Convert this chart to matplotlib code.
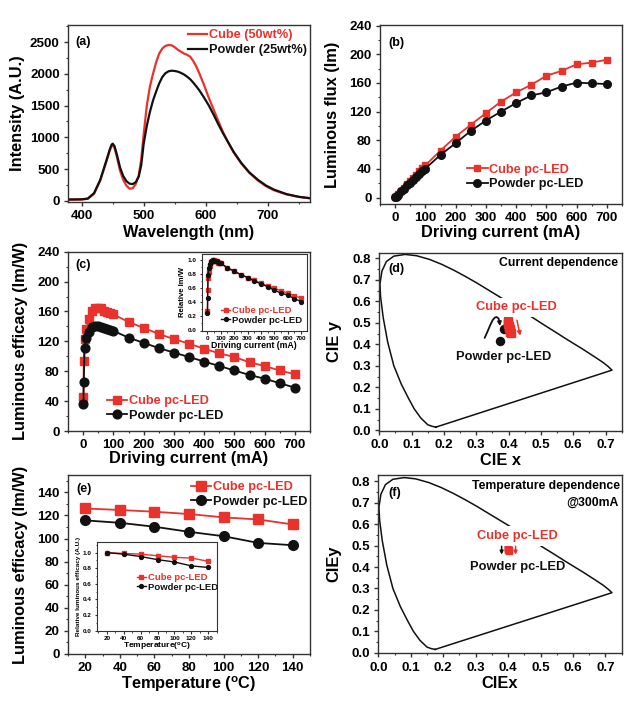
import matplotlib
matplotlib.use('Agg')
import matplotlib.pyplot as plt
from matplotlib.ticker import MultipleLocator, FormatStrFormatter

plt.rcParams['font.family'] = ['Liberation Sans', 'DejaVu Sans']
plt.rcParams['font.weight'] = 'bold'
plt.rcParams['axes.labelweight'] = 'bold'
plt.rcParams['mathtext.fontset'] = 'custom'
plt.rcParams['mathtext.rm'] = 'Liberation Sans:bold'
plt.rcParams['mathtext.it'] = 'Liberation Sans:bold'
plt.rcParams['mathtext.bf'] = 'Liberation Sans:bold'

RED = '#e8322b'
BLK = '#111111'
SPINE = '#333333'

# ---------------- data ----------------
# (a) emission spectra
wavelength = [380, 400, 410, 420, 430, 440, 445, 448, 450, 453,
              457, 462, 467, 472, 477, 482, 487, 492, 496, 500,
              505, 510, 515, 520, 525, 530, 535, 540, 545, 550,
              555, 560, 565, 570, 575, 580, 585, 590, 597, 605,
              613, 620, 628, 635, 645, 657, 670, 684, 697, 710,
              730, 750, 770, 780]
intensity_cube = [15, 20, 30, 110, 320, 620, 780, 860, 880, 830,
                  680, 470, 330, 240, 190, 195, 260, 400, 650, 1050,
                  1500, 1800, 2000, 2180, 2320, 2400, 2440, 2455, 2450, 2420,
                  2380, 2350, 2320, 2300, 2270, 2200, 2110, 2000, 1830, 1620,
                  1430, 1260, 1080, 940, 760, 590, 440, 320, 230, 165,
                  100, 60, 35, 28]
intensity_powder = [20, 22, 35, 120, 330, 640, 800, 880, 900, 860,
                    720, 520, 390, 310, 270, 262, 290, 380, 560, 900,
                    1180, 1400, 1580, 1720, 1850, 1950, 2010, 2040, 2050, 2045,
                    2035, 2015, 1990, 1955, 1915, 1860, 1800, 1735, 1630, 1500,
                    1350, 1210, 1060, 940, 770, 600, 450, 330, 240, 175,
                    105, 62, 38, 30]

# (b), (c) driving current dependence
current = [1, 2, 5, 10, 20, 30, 40, 50, 60, 70, 80, 90, 100,
           150, 200, 250, 300, 350, 400, 450, 500, 550, 600, 650, 700]
flux_cube = [0.1, 0.5, 1.8, 4.5, 9.5, 14, 19, 23.5, 28, 32, 36.5, 41, 45,
             65.7, 85, 101.6, 118, 134, 146.8, 157.5, 170, 177, 186, 188.5, 192.5]
flux_powder = [0.1, 0.4, 1.6, 4, 8.5, 12.5, 17, 21, 25, 29, 33, 37, 40.5,
               59.6, 76, 93, 107.6, 120, 132, 142.6, 147, 155, 160.5, 159.5, 158.5]
eff_cube = [45, 94, 123, 137, 150, 160, 165, 165, 164, 161, 159, 158, 156,
            146, 138, 130, 123, 117, 110, 104, 99, 92, 87, 81, 76]
eff_powder = [36, 65, 111, 125, 133, 139, 141, 140, 139, 138, 137, 135, 134,
              125, 118, 111, 105, 99, 93, 87, 81, 75, 70, 64, 58]
rel_eff_cube = [0.27, 0.57, 0.75, 0.83, 0.91, 0.97, 1.00, 1.00, 0.99, 0.98, 0.96, 0.96, 0.95,
                0.88, 0.84, 0.79, 0.75, 0.71, 0.67, 0.63, 0.60, 0.56, 0.53, 0.49, 0.46]
rel_eff_powder = [0.25, 0.46, 0.79, 0.89, 0.94, 0.99, 1.00, 0.99, 0.99, 0.98, 0.97, 0.96, 0.95,
                  0.89, 0.84, 0.79, 0.75, 0.70, 0.66, 0.62, 0.57, 0.53, 0.50, 0.45, 0.41]

# (d), (f) CIE 1931 spectral locus (as drawn)
locus_x = [0.175, 0.163, 0.150, 0.128, 0.108, 0.090, 0.068, 0.045, 0.026, 0.012,
           0.004, 0.002, 0.008, 0.022, 0.045, 0.080, 0.115, 0.155, 0.193, 0.230,
           0.266, 0.302, 0.338, 0.374, 0.410, 0.445, 0.480, 0.513, 0.545, 0.575,
           0.603, 0.627, 0.666, 0.692, 0.708, 0.720, 0.175]
locus_y = [0.015, 0.019, 0.026, 0.058, 0.100, 0.150, 0.215, 0.300, 0.410, 0.525,
           0.620, 0.680, 0.740, 0.785, 0.810, 0.818, 0.812, 0.795, 0.772, 0.745,
           0.716, 0.685, 0.652, 0.619, 0.586, 0.553, 0.519, 0.487, 0.457, 0.428,
           0.402, 0.380, 0.342, 0.316, 0.297, 0.280, 0.015]

cie_cur_cube_x = [0.397, 0.398, 0.399, 0.400, 0.401, 0.402, 0.403, 0.404, 0.405, 0.406]
cie_cur_cube_y = [0.508, 0.500, 0.493, 0.487, 0.481, 0.475, 0.469, 0.463, 0.457, 0.452]
cie_cur_powder_x = [0.386, 0.372]
cie_cur_powder_y = [0.472, 0.415]

cie_temp_cube_x = [0.399, 0.400, 0.400, 0.401, 0.401, 0.402, 0.402]
cie_temp_cube_y = [0.490, 0.488, 0.486, 0.483, 0.481, 0.479, 0.476]
cie_temp_powder_x = [0.400, 0.400, 0.401, 0.401, 0.402, 0.402, 0.402]
cie_temp_powder_y = [0.488, 0.486, 0.484, 0.482, 0.480, 0.478, 0.477]

# annotation arrows in CIE coordinates
hook_powder_x = [0.326, 0.335, 0.344, 0.351, 0.357, 0.363, 0.369, 0.372]
hook_powder_y = [0.430, 0.460, 0.492, 0.513, 0.524, 0.527, 0.520, 0.505]
arrow_cur_powder = [(0.372, 0.505), (0.373, 0.485)]
arrow_cur_cube = [(0.426, 0.512), (0.436, 0.440)]
arrow_temp_powder = [(0.380, 0.497), (0.380, 0.458)]
arrow_temp_cube = [(0.423, 0.497), (0.423, 0.458)]

# (e) temperature dependence at 300 mA
temperature = [20, 40, 60, 80, 100, 120, 140]
eff_t_cube = [126, 124.7, 123.2, 121.2, 118.3, 116.5, 112.2]
eff_t_powder = [115.7, 113.6, 110.2, 105.8, 102, 96.2, 94.2]
rel_t_cube = [1.00, 0.99, 0.98, 0.96, 0.94, 0.93, 0.89]
rel_t_powder = [1.00, 0.98, 0.95, 0.91, 0.88, 0.83, 0.81]

# ---------------- figure ----------------
W, H = 639, 706
fig = plt.figure(figsize=(W / 100, H / 100), dpi=100)


def axes_px(left, top, right, bottom):
    return fig.add_axes([left / W, (H - bottom) / H, (right - left) / W, (bottom - top) / H])


def style(ax, xmaj, xmin, ymaj, ymin, fs=9.6, lw=1.0, tl=3.0, inset=False):
    ax.xaxis.set_major_locator(MultipleLocator(xmaj))
    ax.xaxis.set_minor_locator(MultipleLocator(xmin))
    ax.yaxis.set_major_locator(MultipleLocator(ymaj))
    ax.yaxis.set_minor_locator(MultipleLocator(ymin))
    ax.tick_params(which='major', direction='out', length=tl, width=lw, labelsize=fs,
                   color=SPINE, pad=2 if inset else 3)
    ax.tick_params(which='minor', direction='out', length=tl * 0.6, width=lw * 0.8, color=SPINE)
    for s in ax.spines.values():
        s.set_linewidth(lw)
        s.set_color(SPINE)


def arrow(ax, pts, color, ms):
    (x0, y0), (x1, y1) = pts
    ax.annotate('', xy=(x1, y1), xytext=(x0, y0), zorder=7,
                arrowprops=dict(arrowstyle='-|>', color=color, lw=1.1, mutation_scale=ms,
                                shrinkA=0, shrinkB=0))


LABFS = 11.8
LEGFS = 9.2

# (a)
ax = axes_px(68, 25, 310, 202)
ax.plot(wavelength, intensity_cube, color=RED, lw=1.6, label='Cube (50wt%)')
ax.plot(wavelength, intensity_powder, color=BLK, lw=1.6, label='Powder (25wt%)')
ax.set_xlim(378, 768)
ax.set_ylim(-20, 2770)
style(ax, 100, 50, 500, 250)
ax.set_xlabel('Wavelength (nm)', fontsize=LABFS)
ax.set_ylabel('Intensity (A.U.)', fontsize=LABFS)
ax.xaxis.set_label_coords(0.5, -0.13)
ax.yaxis.set_label_coords(-0.178, 0.5)
ax.text(0.03, 0.906, '(a)', transform=ax.transAxes, fontsize=9, va='center', ha='left')
ax.legend(frameon=False, labelcolor='linecolor', loc='upper left', bbox_to_anchor=(0.496, 0.975),
          borderpad=0, borderaxespad=0, handlelength=1.5, handletextpad=0.15,
          labelspacing=0.2, fontsize=LEGFS)

# (b)
ax = axes_px(380, 25, 622, 204)
ax.plot(current, flux_cube, color=RED, lw=1.3, marker='s', ms=5, label='Cube pc-LED')
ax.plot(current, flux_powder, color=BLK, lw=1.3, marker='o', ms=5.5, label='Powder pc-LED')
ax.set_xlim(-50, 750)
ax.set_ylim(-9, 241)
style(ax, 100, 50, 40, 20)
ax.set_xlabel('Driving current (mA)', fontsize=LABFS)
ax.set_ylabel('Luminous flux (lm)', fontsize=LABFS)
ax.xaxis.set_label_coords(0.5, -0.12)
ax.yaxis.set_label_coords(-0.165, 0.5)
ax.text(0.033, 0.898, '(b)', transform=ax.transAxes, fontsize=9, va='center', ha='left')
ax.legend(frameon=False, labelcolor='linecolor', loc='upper left', bbox_to_anchor=(0.36, 0.225),
          borderpad=0, borderaxespad=0, handlelength=1.6, handletextpad=0.15,
          labelspacing=0.2, fontsize=LEGFS)

# (c)
ax = axes_px(68, 251.7, 310, 431)
ax.plot(current, eff_cube, color=RED, lw=1.3, marker='s', ms=6, label='Cube pc-LED')
ax.plot(current, eff_powder, color=BLK, lw=1.3, marker='o', ms=6.3, label='Powder pc-LED')
ax.set_xlim(-50, 750)
ax.set_ylim(0, 240)
style(ax, 100, 50, 40, 20)
ax.set_xlabel('Driving current (mA)', fontsize=LABFS)
ax.set_ylabel('Luminous efficacy (lm/W)', fontsize=LABFS)
ax.xaxis.set_label_coords(0.5, -0.11)
ax.yaxis.set_label_coords(-0.165, 0.5)
ax.text(0.03, 0.926, '(c)', transform=ax.transAxes, fontsize=9, va='center', ha='left')
ax.legend(frameon=False, labelcolor='linecolor', loc='upper left', bbox_to_anchor=(0.161, 0.2),
          borderpad=0, borderaxespad=0, handlelength=1.6, handletextpad=0.15,
          labelspacing=0.2, fontsize=LEGFS)

# (c) inset
ax = axes_px(202, 253.5, 306.5, 330.5)
ax.plot(current, rel_eff_cube, color=RED, lw=1.0, marker='s', ms=2.8, label='Cube pc-LED')
ax.plot(current, rel_eff_powder, color=BLK, lw=1.0, marker='o', ms=2.8, label='Powder pc-LED')
ax.set_xlim(-40, 740)
ax.set_ylim(0, 1.09)
style(ax, 100, 50, 0.2, 0.1, fs=4.6, lw=0.8, tl=1.8, inset=True)
ax.yaxis.set_major_formatter(FormatStrFormatter('%.1f'))
ax.set_xlabel('Driving current (mA)', fontsize=6.3, labelpad=0)
ax.set_ylabel('Relative lm/W', fontsize=5.6, labelpad=1)
ax.legend(frameon=False, labelcolor='linecolor', loc='upper left', bbox_to_anchor=(0.18, 0.32),
          borderpad=0, borderaxespad=0, handlelength=1.0, handletextpad=0.15,
          labelspacing=0.1, fontsize=6.8)

# (d)
ax = axes_px(379.3, 252.7, 621.7, 431)
ax.plot(locus_x, locus_y, color=BLK, lw=1.1, zorder=1)
ax.plot(cie_cur_powder_x, cie_cur_powder_y, ls='none', marker='o', ms=5.8, color=BLK, zorder=3)
ax.plot(cie_cur_cube_x, cie_cur_cube_y, ls='none', marker='s', ms=5.5, color=RED, zorder=4)
ax.text(0.424, 0.572, 'Cube pc-LED', fontsize=9.3, color=RED, va='center', ha='center', zorder=5,
        bbox=dict(facecolor='white', edgecolor='none', pad=2.5))
ax.plot(hook_powder_x, hook_powder_y, color=BLK, lw=1.3, zorder=7, solid_capstyle='round')
arrow(ax, arrow_cur_powder, BLK, 6)
arrow(ax, arrow_cur_cube, RED, 6)
ax.set_xlim(0, 0.75)
ax.set_ylim(-0.003, 0.826)
style(ax, 0.1, 0.05, 0.1, 0.05)
ax.xaxis.set_major_formatter(FormatStrFormatter('%.1f'))
ax.yaxis.set_major_formatter(FormatStrFormatter('%.1f'))
ax.set_xlabel('CIE x', fontsize=LABFS)
ax.set_ylabel('CIE y', fontsize=LABFS)
ax.xaxis.set_label_coords(0.5, -0.125)
ax.yaxis.set_label_coords(-0.155, 0.5)
ax.text(0.028, 0.749, '(d)', fontsize=9, va='center', ha='left', zorder=6)
ax.text(0.740, 0.777, 'Current dependence', fontsize=8.8, va='center', ha='right')
ax.text(0.384, 0.342, 'Powder pc-LED', fontsize=9.3, color=BLK, va='center', ha='center')

# (e)
ax = axes_px(68, 475, 310, 654)
ax.plot(temperature, eff_t_cube, color=RED, lw=1.3, marker='s', ms=6.5, label='Cube pc-LED')
ax.plot(temperature, eff_t_powder, color=BLK, lw=1.3, marker='o', ms=7, label='Powder pc-LED')
ax.set_xlim(10, 150)
ax.set_ylim(0, 155)
style(ax, 20, 10, 20, 10)
ax.set_xlabel(r'Temperature ($^{\rm o}$C)', fontsize=LABFS)
ax.set_ylabel('Luminous efficacy (lm/W)', fontsize=LABFS)
ax.xaxis.set_label_coords(0.5, -0.115)
ax.yaxis.set_label_coords(-0.165, 0.5)
ax.text(0.033, 0.92, '(e)', transform=ax.transAxes, fontsize=9, va='center', ha='left')
ax.legend(frameon=False, labelcolor='linecolor', loc='upper left', bbox_to_anchor=(0.507, 0.965),
          borderpad=0, borderaxespad=0, handlelength=1.6, handletextpad=0.15,
          labelspacing=0.2, fontsize=LEGFS)

# (e) inset
ax = axes_px(96.7, 541.7, 216.7, 630.7)
ax.plot(temperature, rel_t_cube, color=RED, lw=1.0, marker='s', ms=2.8, label='Cube pc-LED')
ax.plot(temperature, rel_t_powder, color=BLK, lw=1.0, marker='o', ms=2.8, label='Powder pc-LED')
ax.set_xlim(8, 150)
ax.set_ylim(0, 1.14)
style(ax, 20, 10, 0.2, 0.1, fs=4.6, lw=0.8, tl=1.8, inset=True)
ax.yaxis.set_major_formatter(FormatStrFormatter('%.1f'))
ax.set_xlabel(r'Temperature($^{\rm o}$C)', fontsize=6.0, labelpad=0)
ax.set_ylabel('Relative luminous efficacy (A.U.)', fontsize=4.6, labelpad=1)
ax.legend(frameon=False, labelcolor='linecolor', loc='upper left', bbox_to_anchor=(0.333, 0.65),
          borderpad=0, borderaxespad=0, handlelength=1.0, handletextpad=0.15,
          labelspacing=0.1, fontsize=6.8)

# (f)
ax = axes_px(378.3, 475, 621.7, 653.3)
ax.plot(locus_x, locus_y, color=BLK, lw=1.1, zorder=1)
ax.plot(cie_temp_powder_x, cie_temp_powder_y, ls='none', marker='o', ms=4, color=BLK, zorder=3)
ax.plot(cie_temp_cube_x, cie_temp_cube_y, ls='none', marker='s', ms=4.2, color=RED, zorder=4)
arrow(ax, arrow_temp_powder, BLK, 5)
arrow(ax, arrow_temp_cube, RED, 5)
ax.set_xlim(0, 0.75)
ax.set_ylim(-0.003, 0.83)
style(ax, 0.1, 0.05, 0.1, 0.05)
ax.xaxis.set_major_formatter(FormatStrFormatter('%.1f'))
ax.yaxis.set_major_formatter(FormatStrFormatter('%.1f'))
ax.set_xlabel('CIEx', fontsize=LABFS)
ax.set_ylabel('CIEy', fontsize=LABFS)
ax.xaxis.set_label_coords(0.5, -0.125)
ax.yaxis.set_label_coords(-0.15, 0.5)
ax.text(0.031, 0.746, '(f)', fontsize=9, va='center', ha='left', zorder=6)
ax.text(0.745, 0.777, 'Temperature dependence', fontsize=8.8, va='center', ha='right')
ax.text(0.739, 0.702, '@300mA', fontsize=8.8, va='center', ha='right')
ax.text(0.43, 0.544, 'Cube pc-LED', fontsize=9.3, color=RED, va='center', ha='center', zorder=6,
        bbox=dict(facecolor='white', edgecolor='none', pad=3))
ax.text(0.429, 0.40, 'Powder pc-LED', fontsize=9.3, color=BLK, va='center', ha='center')

fig.savefig('out.png', dpi=100, facecolor='white')
